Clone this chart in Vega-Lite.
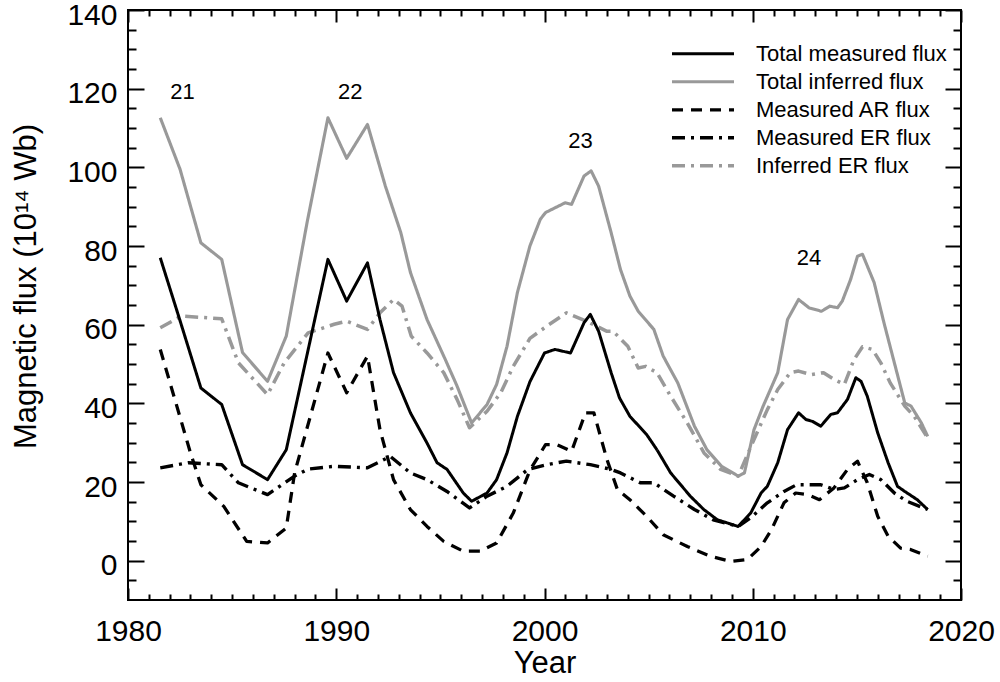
{
  "$schema": "https://vega.github.io/schema/vega-lite/v6.json",
  "width": 833,
  "height": 590,
  "autosize": {"type": "none"},
  "padding": {"left": 128, "top": 10, "right": 39, "bottom": 82},
  "background": "white",
  "config": {
    "view": {"stroke": "black", "strokeWidth": 2},
    "font": "Liberation Sans",
    "axis": {
      "domain": false,
      "tickColor": "black",
      "tickWidth": 2,
      "grid": false,
      "labelColor": "black",
      "titleColor": "black",
      "labelFont": "Liberation Sans",
      "titleFont": "Liberation Sans",
      "labelFontSize": 30,
      "titleFontSize": 31,
      "titleFontWeight": "normal",
      "labelOverlap": false,
      "labelFlush": false,
      "labelBound": false
    }
  },
  "datasets": {
    "flux": [
      {"series": "Total inferred flux", "year": 1981.55, "value": 112.6},
      {"series": "Total inferred flux", "year": 1982.5, "value": 99.5},
      {"series": "Total inferred flux", "year": 1983.5, "value": 80.8},
      {"series": "Total inferred flux", "year": 1984.5, "value": 76.6},
      {"series": "Total inferred flux", "year": 1985.5, "value": 52.9},
      {"series": "Total inferred flux", "year": 1986.7, "value": 45.6},
      {"series": "Total inferred flux", "year": 1987.6, "value": 57.1},
      {"series": "Total inferred flux", "year": 1988.6, "value": 86.0},
      {"series": "Total inferred flux", "year": 1989.6, "value": 112.6},
      {"series": "Total inferred flux", "year": 1990.5, "value": 102.3},
      {"series": "Total inferred flux", "year": 1991.5, "value": 110.9},
      {"series": "Total inferred flux", "year": 1992.36, "value": 95.2},
      {"series": "Total inferred flux", "year": 1993.1, "value": 83.4},
      {"series": "Total inferred flux", "year": 1993.56, "value": 73.3},
      {"series": "Total inferred flux", "year": 1994.36, "value": 61.3},
      {"series": "Total inferred flux", "year": 1995.24, "value": 51.1},
      {"series": "Total inferred flux", "year": 1995.8, "value": 44.4},
      {"series": "Total inferred flux", "year": 1996.5, "value": 35.0},
      {"series": "Total inferred flux", "year": 1997.24, "value": 39.7},
      {"series": "Total inferred flux", "year": 1997.7, "value": 44.8},
      {"series": "Total inferred flux", "year": 1998.2, "value": 54.5},
      {"series": "Total inferred flux", "year": 1998.7, "value": 68.2},
      {"series": "Total inferred flux", "year": 1999.3, "value": 80.0},
      {"series": "Total inferred flux", "year": 1999.8, "value": 86.8},
      {"series": "Total inferred flux", "year": 2000.05, "value": 88.5},
      {"series": "Total inferred flux", "year": 2000.5, "value": 89.7},
      {"series": "Total inferred flux", "year": 2001.0, "value": 91.0},
      {"series": "Total inferred flux", "year": 2001.3, "value": 90.6},
      {"series": "Total inferred flux", "year": 2001.9, "value": 97.8},
      {"series": "Total inferred flux", "year": 2002.24, "value": 99.1},
      {"series": "Total inferred flux", "year": 2002.6, "value": 95.2},
      {"series": "Total inferred flux", "year": 2003.2, "value": 83.4},
      {"series": "Total inferred flux", "year": 2003.65, "value": 74.0},
      {"series": "Total inferred flux", "year": 2004.1, "value": 67.3},
      {"series": "Total inferred flux", "year": 2004.5, "value": 63.4},
      {"series": "Total inferred flux", "year": 2005.25, "value": 58.8},
      {"series": "Total inferred flux", "year": 2005.7, "value": 52.0},
      {"series": "Total inferred flux", "year": 2006.4, "value": 45.2},
      {"series": "Total inferred flux", "year": 2007.2, "value": 34.2},
      {"series": "Total inferred flux", "year": 2007.8, "value": 28.2},
      {"series": "Total inferred flux", "year": 2008.5, "value": 24.0},
      {"series": "Total inferred flux", "year": 2009.3, "value": 21.5},
      {"series": "Total inferred flux", "year": 2009.6, "value": 22.3},
      {"series": "Total inferred flux", "year": 2010.06, "value": 33.3},
      {"series": "Total inferred flux", "year": 2010.5, "value": 39.3},
      {"series": "Total inferred flux", "year": 2011.2, "value": 47.8},
      {"series": "Total inferred flux", "year": 2011.67, "value": 61.3},
      {"series": "Total inferred flux", "year": 2012.2, "value": 66.4},
      {"series": "Total inferred flux", "year": 2012.7, "value": 64.3},
      {"series": "Total inferred flux", "year": 2013.3, "value": 63.4},
      {"series": "Total inferred flux", "year": 2013.7, "value": 64.7},
      {"series": "Total inferred flux", "year": 2014.07, "value": 64.3},
      {"series": "Total inferred flux", "year": 2014.3, "value": 66.0},
      {"series": "Total inferred flux", "year": 2014.7, "value": 71.5},
      {"series": "Total inferred flux", "year": 2015.03, "value": 77.4},
      {"series": "Total inferred flux", "year": 2015.27, "value": 77.9},
      {"series": "Total inferred flux", "year": 2015.83, "value": 70.7},
      {"series": "Total inferred flux", "year": 2016.3, "value": 60.5},
      {"series": "Total inferred flux", "year": 2016.8, "value": 50.3},
      {"series": "Total inferred flux", "year": 2017.3, "value": 40.1},
      {"series": "Total inferred flux", "year": 2017.6, "value": 39.3},
      {"series": "Total inferred flux", "year": 2018.1, "value": 35.0},
      {"series": "Total inferred flux", "year": 2018.4, "value": 31.6},

      {"series": "Inferred ER flux", "year": 1981.55, "value": 59.2},
      {"series": "Inferred ER flux", "year": 1982.56, "value": 62.2},
      {"series": "Inferred ER flux", "year": 1984.5, "value": 61.5},
      {"series": "Inferred ER flux", "year": 1985.3, "value": 50.3},
      {"series": "Inferred ER flux", "year": 1986.7, "value": 42.2},
      {"series": "Inferred ER flux", "year": 1987.5, "value": 50.3},
      {"series": "Inferred ER flux", "year": 1988.65, "value": 57.9},
      {"series": "Inferred ER flux", "year": 1989.9, "value": 60.1},
      {"series": "Inferred ER flux", "year": 1990.5, "value": 60.9},
      {"series": "Inferred ER flux", "year": 1991.5, "value": 58.8},
      {"series": "Inferred ER flux", "year": 1992.1, "value": 63.0},
      {"series": "Inferred ER flux", "year": 1992.75, "value": 66.4},
      {"series": "Inferred ER flux", "year": 1993.16, "value": 64.7},
      {"series": "Inferred ER flux", "year": 1993.6, "value": 57.1},
      {"series": "Inferred ER flux", "year": 1994.36, "value": 52.8},
      {"series": "Inferred ER flux", "year": 1995.16, "value": 47.8},
      {"series": "Inferred ER flux", "year": 1995.8, "value": 41.0},
      {"series": "Inferred ER flux", "year": 1996.4, "value": 33.8},
      {"series": "Inferred ER flux", "year": 1997.24, "value": 38.0},
      {"series": "Inferred ER flux", "year": 1997.9, "value": 42.7},
      {"series": "Inferred ER flux", "year": 1998.5, "value": 49.4},
      {"series": "Inferred ER flux", "year": 1999.3, "value": 56.5},
      {"series": "Inferred ER flux", "year": 2000.1, "value": 59.6},
      {"series": "Inferred ER flux", "year": 2001.05, "value": 63.0},
      {"series": "Inferred ER flux", "year": 2002.0, "value": 60.9},
      {"series": "Inferred ER flux", "year": 2003.0, "value": 58.3},
      {"series": "Inferred ER flux", "year": 2003.3, "value": 58.3},
      {"series": "Inferred ER flux", "year": 2004.0, "value": 54.5},
      {"series": "Inferred ER flux", "year": 2004.5, "value": 49.0},
      {"series": "Inferred ER flux", "year": 2004.86, "value": 49.4},
      {"series": "Inferred ER flux", "year": 2005.4, "value": 47.8},
      {"series": "Inferred ER flux", "year": 2006.06, "value": 41.8},
      {"series": "Inferred ER flux", "year": 2006.86, "value": 35.0},
      {"series": "Inferred ER flux", "year": 2007.66, "value": 27.4},
      {"series": "Inferred ER flux", "year": 2008.46, "value": 23.2},
      {"series": "Inferred ER flux", "year": 2009.3, "value": 21.5},
      {"series": "Inferred ER flux", "year": 2010.06, "value": 30.8},
      {"series": "Inferred ER flux", "year": 2010.7, "value": 38.4},
      {"series": "Inferred ER flux", "year": 2011.2, "value": 43.5},
      {"series": "Inferred ER flux", "year": 2011.8, "value": 47.8},
      {"series": "Inferred ER flux", "year": 2012.2, "value": 48.2},
      {"series": "Inferred ER flux", "year": 2012.8, "value": 47.3},
      {"series": "Inferred ER flux", "year": 2013.4, "value": 47.8},
      {"series": "Inferred ER flux", "year": 2013.9, "value": 46.1},
      {"series": "Inferred ER flux", "year": 2014.4, "value": 44.8},
      {"series": "Inferred ER flux", "year": 2014.86, "value": 51.1},
      {"series": "Inferred ER flux", "year": 2015.27, "value": 54.4},
      {"series": "Inferred ER flux", "year": 2015.75, "value": 53.7},
      {"series": "Inferred ER flux", "year": 2016.15, "value": 50.3},
      {"series": "Inferred ER flux", "year": 2016.6, "value": 45.2},
      {"series": "Inferred ER flux", "year": 2017.3, "value": 39.3},
      {"series": "Inferred ER flux", "year": 2017.75, "value": 36.7},
      {"series": "Inferred ER flux", "year": 2018.4, "value": 31.2},

      {"series": "Measured AR flux", "year": 1981.55, "value": 53.7},
      {"series": "Measured AR flux", "year": 1983.0, "value": 27.4},
      {"series": "Measured AR flux", "year": 1983.5, "value": 19.3},
      {"series": "Measured AR flux", "year": 1984.6, "value": 13.8},
      {"series": "Measured AR flux", "year": 1985.7, "value": 4.9},
      {"series": "Measured AR flux", "year": 1986.7, "value": 4.5},
      {"series": "Measured AR flux", "year": 1987.6, "value": 8.3},
      {"series": "Measured AR flux", "year": 1988.0, "value": 22.3},
      {"series": "Measured AR flux", "year": 1989.6, "value": 52.8},
      {"series": "Measured AR flux", "year": 1990.5, "value": 42.7},
      {"series": "Measured AR flux", "year": 1991.5, "value": 52.0},
      {"series": "Measured AR flux", "year": 1992.1, "value": 33.3},
      {"series": "Measured AR flux", "year": 1992.75, "value": 20.6},
      {"series": "Measured AR flux", "year": 1993.56, "value": 13.0},
      {"series": "Measured AR flux", "year": 1994.36, "value": 8.7},
      {"series": "Measured AR flux", "year": 1995.16, "value": 4.9},
      {"series": "Measured AR flux", "year": 1996.1, "value": 2.4},
      {"series": "Measured AR flux", "year": 1996.9, "value": 2.4},
      {"series": "Measured AR flux", "year": 1997.7, "value": 4.5},
      {"series": "Measured AR flux", "year": 1998.5, "value": 12.1},
      {"series": "Measured AR flux", "year": 1999.3, "value": 23.0},
      {"series": "Measured AR flux", "year": 2000.05, "value": 29.5},
      {"series": "Measured AR flux", "year": 2000.6, "value": 29.5},
      {"series": "Measured AR flux", "year": 2001.3, "value": 27.8},
      {"series": "Measured AR flux", "year": 2001.97, "value": 37.6},
      {"series": "Measured AR flux", "year": 2002.37, "value": 37.6},
      {"series": "Measured AR flux", "year": 2003.0, "value": 25.7},
      {"series": "Measured AR flux", "year": 2003.5, "value": 18.1},
      {"series": "Measured AR flux", "year": 2004.1, "value": 15.5},
      {"series": "Measured AR flux", "year": 2004.9, "value": 11.3},
      {"series": "Measured AR flux", "year": 2005.7, "value": 6.6},
      {"series": "Measured AR flux", "year": 2006.86, "value": 3.6},
      {"series": "Measured AR flux", "year": 2007.98, "value": 1.1},
      {"series": "Measured AR flux", "year": 2008.94, "value": -0.2},
      {"series": "Measured AR flux", "year": 2009.75, "value": 0.3},
      {"series": "Measured AR flux", "year": 2010.4, "value": 3.6},
      {"series": "Measured AR flux", "year": 2010.9, "value": 7.9},
      {"series": "Measured AR flux", "year": 2011.5, "value": 14.7},
      {"series": "Measured AR flux", "year": 2012.06, "value": 17.2},
      {"series": "Measured AR flux", "year": 2012.63, "value": 16.8},
      {"series": "Measured AR flux", "year": 2013.2, "value": 15.5},
      {"series": "Measured AR flux", "year": 2013.9, "value": 18.5},
      {"series": "Measured AR flux", "year": 2014.55, "value": 23.2},
      {"series": "Measured AR flux", "year": 2015.03, "value": 25.3},
      {"series": "Measured AR flux", "year": 2015.5, "value": 19.8},
      {"series": "Measured AR flux", "year": 2016.0, "value": 11.3},
      {"series": "Measured AR flux", "year": 2016.5, "value": 6.2},
      {"series": "Measured AR flux", "year": 2017.1, "value": 3.2},
      {"series": "Measured AR flux", "year": 2017.6, "value": 2.8},
      {"series": "Measured AR flux", "year": 2018.4, "value": 1.1},

      {"series": "Measured ER flux", "year": 1981.55, "value": 23.6},
      {"series": "Measured ER flux", "year": 1982.9, "value": 24.9},
      {"series": "Measured ER flux", "year": 1984.5, "value": 24.4},
      {"series": "Measured ER flux", "year": 1985.3, "value": 19.8},
      {"series": "Measured ER flux", "year": 1986.7, "value": 16.8},
      {"series": "Measured ER flux", "year": 1988.0, "value": 21.5},
      {"series": "Measured ER flux", "year": 1988.65, "value": 23.3},
      {"series": "Measured ER flux", "year": 1989.9, "value": 24.0},
      {"series": "Measured ER flux", "year": 1991.5, "value": 23.6},
      {"series": "Measured ER flux", "year": 1992.6, "value": 26.5},
      {"series": "Measured ER flux", "year": 1993.56, "value": 22.3},
      {"series": "Measured ER flux", "year": 1994.36, "value": 20.6},
      {"series": "Measured ER flux", "year": 1995.32, "value": 17.6},
      {"series": "Measured ER flux", "year": 1996.4, "value": 13.4},
      {"series": "Measured ER flux", "year": 1997.24, "value": 16.4},
      {"series": "Measured ER flux", "year": 1998.2, "value": 18.9},
      {"series": "Measured ER flux", "year": 1999.2, "value": 23.2},
      {"series": "Measured ER flux", "year": 2000.1, "value": 24.4},
      {"series": "Measured ER flux", "year": 2001.05, "value": 25.3},
      {"series": "Measured ER flux", "year": 2002.2, "value": 24.4},
      {"series": "Measured ER flux", "year": 2003.2, "value": 23.2},
      {"series": "Measured ER flux", "year": 2003.65, "value": 22.3},
      {"series": "Measured ER flux", "year": 2004.6, "value": 19.8},
      {"series": "Measured ER flux", "year": 2005.25, "value": 19.8},
      {"series": "Measured ER flux", "year": 2006.2, "value": 16.4},
      {"series": "Measured ER flux", "year": 2007.2, "value": 13.0},
      {"series": "Measured ER flux", "year": 2008.1, "value": 10.4},
      {"series": "Measured ER flux", "year": 2009.3, "value": 8.7},
      {"series": "Measured ER flux", "year": 2009.9, "value": 10.9},
      {"series": "Measured ER flux", "year": 2010.7, "value": 14.7},
      {"series": "Measured ER flux", "year": 2011.5, "value": 17.6},
      {"series": "Measured ER flux", "year": 2012.1, "value": 19.3},
      {"series": "Measured ER flux", "year": 2013.27, "value": 19.3},
      {"series": "Measured ER flux", "year": 2013.9, "value": 18.1},
      {"series": "Measured ER flux", "year": 2014.4, "value": 18.5},
      {"series": "Measured ER flux", "year": 2015.03, "value": 20.6},
      {"series": "Measured ER flux", "year": 2015.6, "value": 21.9},
      {"series": "Measured ER flux", "year": 2016.15, "value": 20.6},
      {"series": "Measured ER flux", "year": 2016.8, "value": 17.2},
      {"series": "Measured ER flux", "year": 2017.4, "value": 15.1},
      {"series": "Measured ER flux", "year": 2018.4, "value": 13.0},

      {"series": "Total measured flux", "year": 1981.55, "value": 77.0},
      {"series": "Total measured flux", "year": 1982.5, "value": 61.0},
      {"series": "Total measured flux", "year": 1983.5, "value": 43.9},
      {"series": "Total measured flux", "year": 1984.5, "value": 39.7},
      {"series": "Total measured flux", "year": 1985.5, "value": 24.4},
      {"series": "Total measured flux", "year": 1986.7, "value": 20.6},
      {"series": "Total measured flux", "year": 1987.6, "value": 28.2},
      {"series": "Total measured flux", "year": 1989.6, "value": 76.6},
      {"series": "Total measured flux", "year": 1990.5, "value": 66.0},
      {"series": "Total measured flux", "year": 1991.5, "value": 75.7},
      {"series": "Total measured flux", "year": 1992.1, "value": 61.3},
      {"series": "Total measured flux", "year": 1992.75, "value": 47.8},
      {"series": "Total measured flux", "year": 1993.56, "value": 37.6},
      {"series": "Total measured flux", "year": 1994.36, "value": 29.9},
      {"series": "Total measured flux", "year": 1994.84, "value": 24.9},
      {"series": "Total measured flux", "year": 1995.32, "value": 23.2},
      {"series": "Total measured flux", "year": 1996.1, "value": 17.2},
      {"series": "Total measured flux", "year": 1996.5, "value": 15.1},
      {"series": "Total measured flux", "year": 1997.24, "value": 17.2},
      {"series": "Total measured flux", "year": 1997.7, "value": 20.6},
      {"series": "Total measured flux", "year": 1998.2, "value": 27.4},
      {"series": "Total measured flux", "year": 1998.7, "value": 36.7},
      {"series": "Total measured flux", "year": 1999.3, "value": 45.5},
      {"series": "Total measured flux", "year": 2000.0, "value": 52.8},
      {"series": "Total measured flux", "year": 2000.5, "value": 53.7},
      {"series": "Total measured flux", "year": 2001.25, "value": 52.8},
      {"series": "Total measured flux", "year": 2001.9, "value": 60.5},
      {"series": "Total measured flux", "year": 2002.2, "value": 62.6},
      {"series": "Total measured flux", "year": 2002.6, "value": 58.3},
      {"series": "Total measured flux", "year": 2003.2, "value": 47.8},
      {"series": "Total measured flux", "year": 2003.6, "value": 41.4},
      {"series": "Total measured flux", "year": 2004.1, "value": 36.7},
      {"series": "Total measured flux", "year": 2004.9, "value": 32.1},
      {"series": "Total measured flux", "year": 2005.4, "value": 28.2},
      {"series": "Total measured flux", "year": 2006.06, "value": 22.3},
      {"series": "Total measured flux", "year": 2007.0, "value": 16.4},
      {"series": "Total measured flux", "year": 2007.65, "value": 13.0},
      {"series": "Total measured flux", "year": 2008.3, "value": 10.4},
      {"series": "Total measured flux", "year": 2009.3, "value": 8.7},
      {"series": "Total measured flux", "year": 2009.9, "value": 12.1},
      {"series": "Total measured flux", "year": 2010.4, "value": 17.2},
      {"series": "Total measured flux", "year": 2010.7, "value": 18.9},
      {"series": "Total measured flux", "year": 2011.2, "value": 24.9},
      {"series": "Total measured flux", "year": 2011.67, "value": 33.3},
      {"series": "Total measured flux", "year": 2012.2, "value": 37.6},
      {"series": "Total measured flux", "year": 2012.55, "value": 35.9},
      {"series": "Total measured flux", "year": 2012.87, "value": 35.4},
      {"series": "Total measured flux", "year": 2013.27, "value": 34.2},
      {"series": "Total measured flux", "year": 2013.75, "value": 37.2},
      {"series": "Total measured flux", "year": 2014.07, "value": 37.6},
      {"series": "Total measured flux", "year": 2014.55, "value": 41.0},
      {"series": "Total measured flux", "year": 2014.95, "value": 46.5},
      {"series": "Total measured flux", "year": 2015.2, "value": 45.6},
      {"series": "Total measured flux", "year": 2015.5, "value": 41.8},
      {"series": "Total measured flux", "year": 2016.0, "value": 32.5},
      {"series": "Total measured flux", "year": 2016.5, "value": 24.9},
      {"series": "Total measured flux", "year": 2016.95, "value": 18.9},
      {"series": "Total measured flux", "year": 2017.3, "value": 17.6},
      {"series": "Total measured flux", "year": 2017.9, "value": 15.5},
      {"series": "Total measured flux", "year": 2018.4, "value": 13.0}
    ],
    "cycles": [
      {"cycle": "21", "year": 1982.62, "value": 119.2},
      {"cycle": "22", "year": 1990.67, "value": 119.2},
      {"cycle": "23", "year": 2001.73, "value": 106.6},
      {"cycle": "24", "year": 2012.7, "value": 77.0}
    ]
  },
  "layer": [
    {
      "data": {"name": "flux"},
      "mark": {"type": "line", "strokeJoin": "round"},
      "encoding": {
        "x": {
          "field": "year",
          "type": "quantitative",
          "scale": {"domain": [1980, 2020], "nice": false, "zero": false},
          "axis": {
            "orient": "bottom",
            "title": "Year",
            "format": "d",
            "values": [1980, 1990, 2000, 2010, 2020],
            "tickSize": 12,
            "offset": -12,
            "labelPadding": 16,
            "titleY": 84,
            "titleBaseline": "alphabetic"
          }
        },
        "y": {
          "field": "value",
          "type": "quantitative",
          "scale": {"domain": [-10, 140], "nice": false, "zero": false},
          "axis": {
            "orient": "left",
            "title": "Magnetic flux (10¹⁴ Wb)",
            "values": [0, 20, 40, 60, 80, 100, 120, 140],
            "tickSize": 16,
            "offset": -16,
            "labelPadding": 11,
            "labelOffset": 5,
            "titleX": -102,
            "titleY": 276
          }
        },
        "color": {
          "field": "series",
          "type": "nominal",
          "scale": {
            "domain": ["Total measured flux", "Total inferred flux", "Measured AR flux", "Measured ER flux", "Inferred ER flux"],
            "range": ["#000000", "#999999", "#000000", "#000000", "#999999"]
          },
          "legend": {
            "title": null,
            "orient": "none",
            "legendX": 542,
            "legendY": 30,
            "symbolType": "stroke",
            "symbolSize": 3844,
            "clipHeight": 27.5,
            "rowPadding": 0,
            "padding": 0,
            "labelFontSize": 22,
            "labelFont": "Liberation Sans",
            "labelColor": "black",
            "labelOffset": 20,
            "labelLimit": 400
          }
        },
        "strokeDash": {
          "field": "series",
          "type": "nominal",
          "scale": {
            "domain": ["Total measured flux", "Total inferred flux", "Measured AR flux", "Measured ER flux", "Inferred ER flux"],
            "range": [[1, 0], [1, 0], [11, 8], [13, 6, 3, 6], [13, 6, 3, 6]]
          }
        },
        "strokeWidth": {
          "field": "series",
          "type": "nominal",
          "scale": {
            "domain": ["Total measured flux", "Total inferred flux", "Measured AR flux", "Measured ER flux", "Inferred ER flux"],
            "range": [3, 3.5, 1.8, 3.5, 3.5]
          }
        }
      }
    },
    {
      "data": {"name": "cycles"},
      "mark": {"type": "text", "fontSize": 22, "font": "Liberation Sans", "color": "black", "align": "center", "baseline": "middle"},
      "encoding": {
        "x": {
          "field": "year",
          "type": "quantitative",
          "axis": {
            "orient": "top",
            "title": null,
            "labels": false,
            "values": [1980, 1990, 2000, 2010, 2020],
            "tickSize": 12,
            "offset": -12
          }
        },
        "y": {
          "field": "value",
          "type": "quantitative",
          "axis": {
            "orient": "right",
            "title": null,
            "labels": false,
            "values": [0, 20, 40, 60, 80, 100, 120, 140],
            "tickSize": 16,
            "offset": -16
          }
        },
        "text": {"field": "cycle", "type": "nominal"}
      }
    },
    {
      "data": {"name": "cycles"},
      "mark": {"type": "text"},
      "encoding": {
        "x": {
          "field": "year",
          "type": "quantitative",
          "axis": {
            "orient": "bottom",
            "title": null,
            "labels": false,
            "values": [1981, 1982, 1983, 1984, 1985, 1986, 1987, 1988, 1989, 1991, 1992, 1993, 1994, 1995, 1996, 1997, 1998, 1999, 2001, 2002, 2003, 2004, 2005, 2006, 2007, 2008, 2009, 2011, 2012, 2013, 2014, 2015, 2016, 2017, 2018, 2019],
            "tickSize": 6,
            "offset": -6
          }
        },
        "y": {
          "field": "value",
          "type": "quantitative",
          "axis": {
            "orient": "left",
            "title": null,
            "labels": false,
            "values": [-5, 5, 10, 15, 25, 30, 35, 45, 50, 55, 65, 70, 75, 85, 90, 95, 105, 110, 115, 125, 130, 135],
            "tickSize": 8,
            "offset": -8
          }
        }
      }
    },
    {
      "data": {"name": "cycles"},
      "mark": {"type": "text"},
      "encoding": {
        "x": {
          "field": "year",
          "type": "quantitative",
          "axis": {
            "orient": "top",
            "title": null,
            "labels": false,
            "values": [1981, 1982, 1983, 1984, 1985, 1986, 1987, 1988, 1989, 1991, 1992, 1993, 1994, 1995, 1996, 1997, 1998, 1999, 2001, 2002, 2003, 2004, 2005, 2006, 2007, 2008, 2009, 2011, 2012, 2013, 2014, 2015, 2016, 2017, 2018, 2019],
            "tickSize": 6,
            "offset": -6
          }
        },
        "y": {
          "field": "value",
          "type": "quantitative",
          "axis": {
            "orient": "right",
            "title": null,
            "labels": false,
            "values": [-5, 5, 10, 15, 25, 30, 35, 45, 50, 55, 65, 70, 75, 85, 90, 95, 105, 110, 115, 125, 130, 135],
            "tickSize": 8,
            "offset": -8
          }
        }
      }
    }
  ],
  "resolve": {"axis": {"x": "independent", "y": "independent"}}
}
